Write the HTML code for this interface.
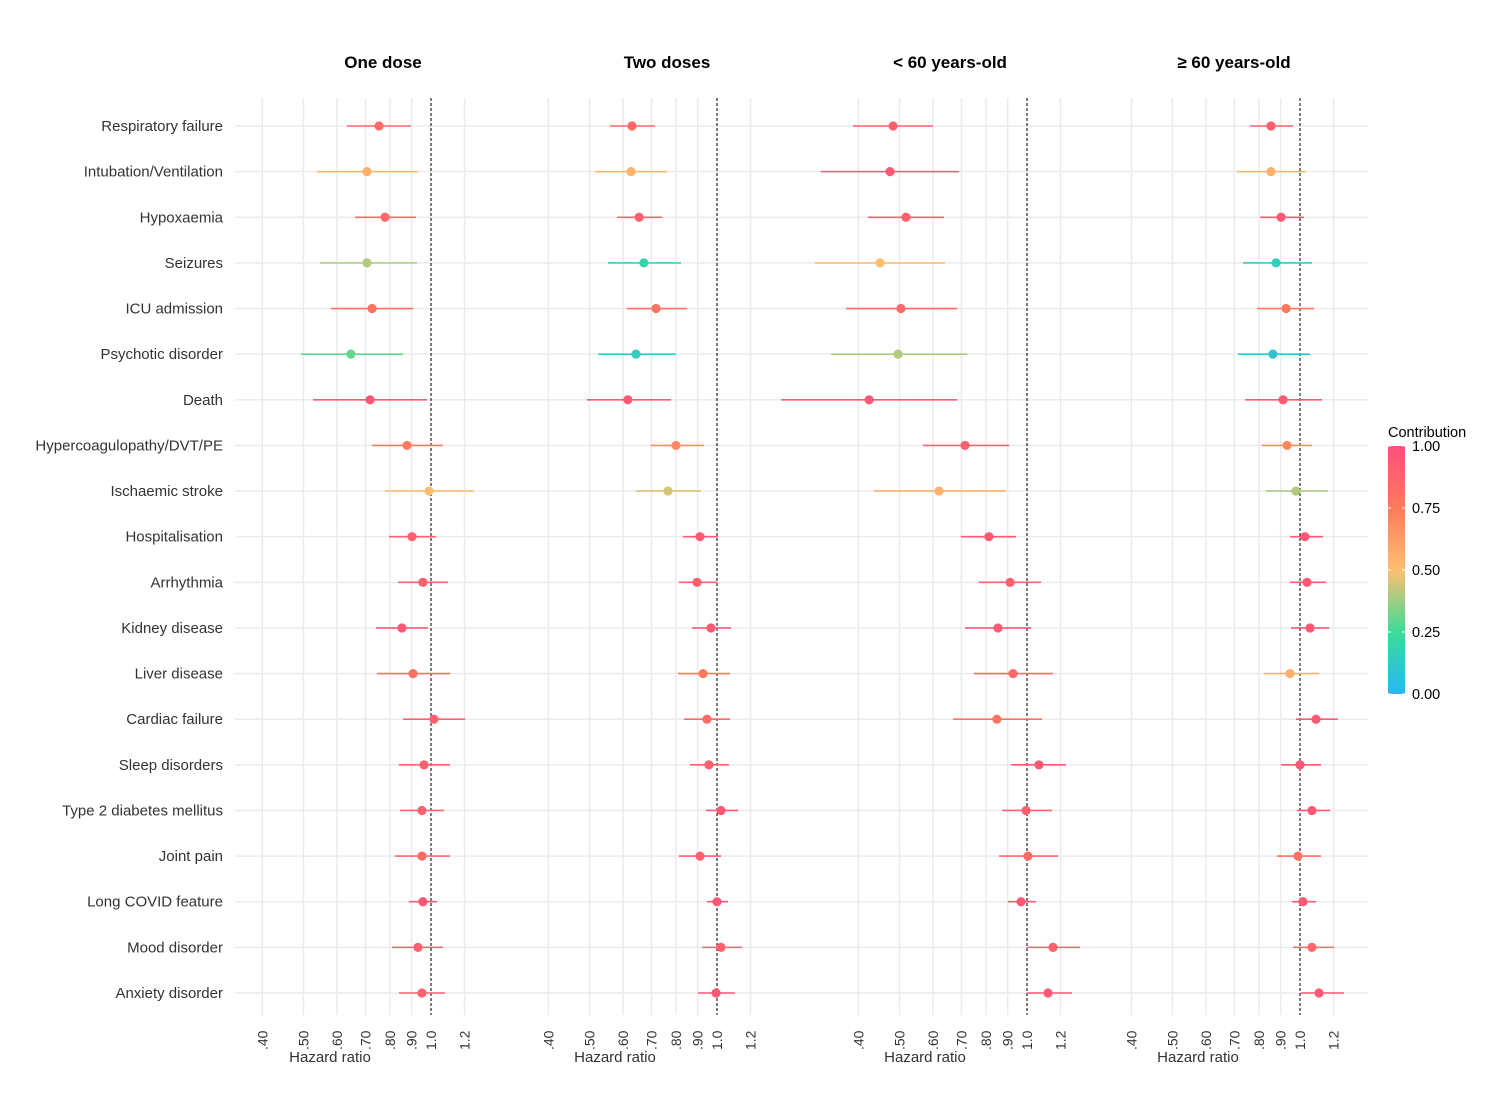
<!DOCTYPE html>
<html><head><meta charset="utf-8">
<style>
body{margin:0;background:#fff;}
svg text{font-family:"Liberation Sans",sans-serif;}
</style></head>
<body>
<svg id="chart" width="1496" height="1092" xmlns="http://www.w3.org/2000/svg">
<defs>
<linearGradient id="cgrad" x1="0" y1="1" x2="0" y2="0">
<stop offset="0" stop-color="#29b6f6"/>
<stop offset="0.25" stop-color="#3ddc97"/>
<stop offset="0.5" stop-color="#fdbf6f"/>
<stop offset="0.75" stop-color="#ff7a5c"/>
<stop offset="1" stop-color="#ff4f7b"/>
</linearGradient>
</defs>
</svg>
<script>
const outcomes=["Respiratory failure","Intubation/Ventilation","Hypoxaemia","Seizures","ICU admission","Psychotic disorder","Death","Hypercoagulopathy/DVT/PE","Ischaemic stroke","Hospitalisation","Arrhythmia","Kidney disease","Liver disease","Cardiac failure","Sleep disorders","Type 2 diabetes mellitus","Joint pain","Long COVID feature","Mood disorder","Anxiety disorder"];
const panelTitles=["One dose","Two doses","< 60 years-old","≥ 60 years-old"];
const tickValues=[0.4,0.5,0.6,0.7,0.8,0.9,1.0,1.2];
const tickLabels=[".40",".50",".60",".70",".80",".90","1.0","1.2"];
const legendTicks=[0,0.25,0.5,0.75,1];
const legendLabels=["0.00","0.25","0.50","0.75","1.00"];

const hr1=[.754,.706,.779,.706,.726,.647,.718,.878,.989,.902,.957,.854,.907,1.016,.963,.952,.952,.957,.932,.952];
const lo1=[.633,.538,.662,.547,.581,.493,.527,.726,.779,.796,.836,.742,.746,.859,.84,.845,.822,.887,.809,.84];
const hi1=[.897,.93,.922,.927,.907,.859,.978,1.067,1.263,1.027,1.097,.984,1.109,1.203,1.109,1.073,1.109,1.033,1.067,1.079];
const c1=[.85,.55,.85,.4,.8,.3,.95,.75,.5,.9,.9,.95,.8,.9,.9,.9,.85,.95,.9,.9];

const hr2=[.630,.627,.655,.672,.718,.644,.616,.8,.766,.912,.897,.968,.927,.947,.957,1.022,.912,1.0,1.022,.995];
const lo2=[.559,.515,.581,.553,.613,.524,.493,.698,.644,.831,.813,.873,.809,.836,.863,.942,.813,.947,.922,.902];
const hi2=[.714,.762,.742,.822,.85,.8,.779,.932,.917,1.005,1.0,1.079,1.073,1.073,1.067,1.121,1.022,1.062,1.146,1.103];
const c2=[.85,.55,.9,.2,.8,.15,.95,.7,.45,.95,.9,.95,.75,.85,.9,.95,.9,.95,.9,.95];

const hr3=[.483,.475,.518,.45,.504,.496,.424,.714,.62,.813,.912,.854,.927,.849,1.067,.995,1.005,.968,1.152,1.121];
const lo3=[.388,.326,.421,.316,.374,.345,.263,.568,.435,.698,.77,.714,.75,.669,.917,.873,.859,.902,1.0,1.0];
const hi3=[.6,.691,.637,.64,.684,.722,.684,.907,.892,.942,1.079,1.022,1.152,1.085,1.236,1.146,1.184,1.05,1.334,1.277];
const c3=[.9,.95,.9,.5,.85,.4,.95,.9,.55,.95,.9,.95,.85,.8,.95,.9,.85,.95,.9,.95];

const hr4=[.854,.854,.902,.878,.927,.863,.912,.932,.978,1.027,1.039,1.056,.947,1.091,1.0,1.067,.989,1.016,1.067,1.109];
const lo4=[.762,.71,.805,.734,.792,.714,.742,.813,.831,.947,.947,.952,.822,.978,.902,.984,.882,.957,.963,1.005];
const hi4=[.963,1.033,1.022,1.067,1.079,1.056,1.127,1.067,1.164,1.133,1.152,1.171,1.109,1.229,1.121,1.177,1.121,1.091,1.203,1.27];
const c4=[.9,.55,.95,.15,.75,.1,.95,.7,.4,.95,.95,.95,.55,.95,.95,.95,.8,.95,.85,.95];

const HR=[hr1,hr2,hr3,hr4], LO=[lo1,lo2,lo3,lo4], HI=[hi1,hi2,hi3,hi4], CON=[c1,c2,c3,c4];

const svg=document.getElementById('chart');
const NS="http://www.w3.org/2000/svg";
function mk(tag,attrs,parent){const e=document.createElementNS(NS,tag);for(const k in attrs)e.setAttribute(k,attrs[k]);(parent||svg).appendChild(e);return e;}

const oneX=[431,717,1027,1300];
const titleX=[383,667,950,1234];
const hrLabelX=[330,615,925,1198];
const K=184;
function xScale(p,v){return oneX[p]+K*Math.log(v);}
const yTop=126, yStep=(993-126)/19;
function yScale(i){return yTop+i*yStep;}
const stops=[[0,[41,182,246]],[.25,[61,220,151]],[.5,[253,191,111]],[.75,[255,122,92]],[1,[255,79,123]]];
function color(c){for(let i=0;i<4;i++){const a=stops[i],b=stops[i+1];if(c<=b[0]){const t=(c-a[0])/(b[0]-a[0]);const r=a[1].map((v,j)=>Math.round(v+(b[1][j]-v)*t));return `rgb(${r.join(',')})`;}}return 'rgb(255,79,123)';}

outcomes.forEach((o,i)=>{
  const y=yScale(i);
  const g=mk('line',{x1:235,x2:1368,y1:y,y2:y,stroke:'#ebebeb','stroke-width':1.5});
  
  
  const t=mk('text',{x:223,y:y+5,'text-anchor':'end','font-size':15,fill:'#333'});
  t.textContent=o;
  
  
});

for(let p=0;p<4;p++){
  const g=mk('g',{});
  
  
  tickValues.forEach((v,k)=>{
    const x=xScale(p,v);
    if(v!==1.0){
      const l=mk('line',{x1:x,x2:x,y1:98,y2:1015,stroke:'#ebebeb','stroke-width':1.5},g);
      
      
    }
    const t=mk('text',{x:0,y:0,transform:`translate(${x+5},1050) rotate(-90)`,'font-size':14,fill:'#333'},g);
    t.textContent=tickLabels[k];
    
    
  });
  const ref=mk('line',{x1:xScale(p,1),x2:xScale(p,1),y1:98,y2:1015,stroke:'#111','stroke-width':1.1,'stroke-dasharray':'3,2'},g);
  
  
  const tt=mk('text',{x:titleX[p],y:68,'text-anchor':'middle','font-size':17,'font-weight':'bold',fill:'#000'},g);
  tt.textContent=panelTitles[p];
  
  
  const xl=mk('text',{x:hrLabelX[p],y:1062,'text-anchor':'middle','font-size':15,fill:'#333'},g);
  xl.textContent='Hazard ratio';
  
  
  outcomes.forEach((o,i)=>{
    const y=yScale(i), col=color(CON[p][i]);
    const ci=mk('line',{x1:xScale(p,LO[p][i]),x2:xScale(p,HI[p][i]),y1:y,y2:y,stroke:col,'stroke-width':1.6},g);
    
    
    const pt=mk('circle',{cx:xScale(p,HR[p][i]),cy:y,r:4.6,fill:col},g);
    
    
  });
}

const lg=mk('g',{});


const lt=mk('text',{x:1388,y:437,'font-size':14.5,fill:'#000'},lg);
lt.textContent='Contribution';


const bar=mk('rect',{x:1388,y:446,width:17,height:248,fill:'url(#cgrad)'},lg);


legendTicks.forEach((v,k)=>{
  const y=694-v*248;
  mk('line',{x1:1388,x2:1391,y1:y,y2:y,stroke:'#fff','stroke-width':1},lg);
  mk('line',{x1:1402,x2:1405,y1:y,y2:y,stroke:'#fff','stroke-width':1},lg);
  const t=mk('text',{x:1412,y:y+5,'font-size':14.5,fill:'#000'},lg);
  t.textContent=legendLabels[k];
  
  
});
</script>
</body></html>
